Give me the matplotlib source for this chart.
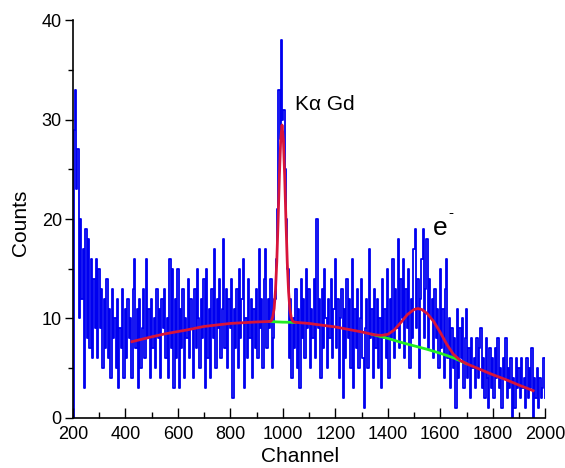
import numpy as np
import matplotlib.pyplot as plt
from matplotlib.ticker import MultipleLocator

plt.rcParams['font.family'] = ['Liberation Sans', 'DejaVu Sans']

# spectrum, every 5 channels (200 .. 2000)
channel = np.arange(200, 2001, 5)
counts = [
    0, 29, 33, 23, 27, 10, 20, 12, 17, 3, 19, 8, 18, 7, 16, 6, 14, 9, 16, 6,            # 200
    15, 9, 13, 5, 12, 7, 14, 6, 11, 4, 13, 8, 10, 5, 12, 3, 9, 7, 13, 4,              # 300
    11, 6, 12, 8, 10, 4, 13, 16, 7, 11, 3, 12, 5, 9, 13, 6, 16, 8, 11, 4,             # 400
    12, 7, 10, 5, 13, 8, 11, 4, 12, 9, 13, 6, 10, 4, 16, 7, 15, 3, 12, 6,             # 500
    15, 3, 11, 7, 13, 4, 10, 8, 14, 6, 12, 9, 4, 13, 7, 15, 10, 5, 12, 8,             # 600
    14, 3, 15, 6, 11, 4, 13, 8, 17, 5, 12, 9, 14, 6, 11, 18, 7, 13, 5, 12,            # 700
    9, 14, 2, 11, 7, 13, 5, 15, 8, 12, 16, 3, 10, 6, 14, 8, 12, 4, 11, 7,             # 800
    13, 6, 17, 9, 12, 5, 14, 17, 7, 12, 9, 14, 5, 8, 12, 16, 21, 33, 28, 38,          # 900
    30, 31, 25, 20, 15, 6, 12, 4, 10, 7, 13, 5, 11, 3, 14, 8, 12, 6, 15, 9,           # 1000
    13, 5, 11, 8, 14, 6, 20, 9, 12, 4, 13, 7, 15, 10, 5, 12, 8, 14, 6, 11,            # 1100
    16, 7, 12, 4, 10, 13, 2, 11, 6, 14, 8, 12, 5, 16, 3, 11, 7, 13, 5, 10,            # 1200
    14, 6, 1, 9, 12, 5, 17, 8, 11, 4, 13, 7, 12, 5, 10, 3, 14, 8, 11, 6,              # 1300
    15, 4, 12, 8, 16, 6, 13, 9, 18, 7, 14, 10, 16, 6, 13, 9, 15, 5, 12, 8,            # 1400
    17, 19, 9, 14, 4, 12, 16, 19, 8, 13, 18, 7, 14, 10, 12, 6, 13, 8, 11, 5,          # 1500
    15, 7, 11, 4, 13, 16, 6, 10, 3, 9, 5, 8, 1, 11, 4, 9, 6, 10, 3, 8,                # 1600
    11, 4, 7, 2, 8, 5, 6, 3, 8, 4, 7, 9, 3, 6, 2, 8, 4, 1, 7, 3,                      # 1700
    6, 2, 7, 4, 8, 3, 5, 1, 6, 4, 8, 2, 5, 3, 6, 0, 4, 1, 6, 3,                       # 1800
    5, 2, 6, 3, 4, 1, 6, 2, 5, 3, 7, 0, 4, 2, 5, 1, 4, 2, 3, 6, 2,                    # 1900
]

# total fit (red)
fit_x = [425, 500, 550, 633, 700, 800, 900, 952, 957, 962, 967, 972, 977, 982,
         987, 992, 997, 1002, 1007, 1012, 1017, 1022, 1027, 1032, 1037, 1045,
         1100, 1142, 1200, 1250, 1300, 1350, 1375, 1400, 1425, 1450, 1475, 1500,
         1515, 1530, 1550, 1575, 1600, 1625, 1650, 1675, 1700, 1750, 1800, 1850,
         1900, 1954]
fit_y = [7.67, 8.15, 8.45, 8.84, 9.2, 9.5, 9.65, 9.7, 9.8, 10.2, 11.0, 12.8, 15.7,
         19.8, 24.4, 28.0, 29.45, 28.0, 24.4, 19.8, 15.6, 12.7, 10.9, 10.1, 9.75,
         9.62, 9.5, 9.35, 9.15, 8.9, 8.65, 8.35, 8.3, 8.4, 8.85, 9.6, 10.4, 10.9,
         11.0, 10.9, 10.5, 9.7, 8.6, 7.4, 6.4, 5.8, 5.45, 4.9, 4.35, 3.85, 3.3, 2.74]

# background (green), only where it leaves the total fit
bg1_x = [950, 975, 1000, 1025, 1045]
bg1_y = [9.7, 9.66, 9.63, 9.62, 9.6]
bg2_x = [1340, 1400, 1450, 1500, 1550, 1600, 1650, 1700]
bg2_y = [8.4, 8.0, 7.6, 7.25, 6.9, 6.5, 6.05, 5.45]

fig = plt.figure(figsize=(5.65, 4.68), dpi=100)
ax = fig.add_axes([0.129, 0.107, 0.836, 0.85])

ax.plot(channel, counts, drawstyle='steps-mid', color='#0000f0', lw=1.3, zorder=1)
ax.plot(bg1_x, bg1_y, color='#22ee22', lw=2.0, zorder=2)
ax.plot(bg2_x, bg2_y, color='#22ee22', lw=2.0, zorder=2)
ax.plot(fit_x, fit_y, color='#d8143a', lw=2.0, zorder=3)

ax.text(1047, 31.0, 'K\u03b1 Gd', fontsize=15)
ax.text(1573, 18.4, 'e', fontsize=19)
ax.text(1632, 20.2, '-', fontsize=11)

ax.set_xlim(200, 2000)
ax.set_ylim(0, 40)
ax.xaxis.set_major_locator(MultipleLocator(200))
ax.xaxis.set_minor_locator(MultipleLocator(100))
ax.yaxis.set_major_locator(MultipleLocator(10))
ax.yaxis.set_minor_locator(MultipleLocator(5))
ax.tick_params(axis='x', which='major', direction='in', length=7, width=1, labelsize=13, pad=6)
ax.tick_params(axis='x', which='minor', direction='in', length=4, width=1)
ax.tick_params(axis='y', which='major', direction='out', length=6, width=1, labelsize=13, pad=2)
ax.tick_params(axis='y', which='minor', direction='out', length=3.5, width=1)
ax.spines['top'].set_visible(False)
ax.spines['right'].set_visible(False)
ax.spines['left'].set_linewidth(1.2)
ax.spines['bottom'].set_linewidth(1.2)
ax.set_xlabel('Channel', fontsize=15)
ax.set_ylabel('Counts', fontsize=15)
ax.xaxis.set_label_coords(0.481, -0.072)
ax.yaxis.set_label_coords(-0.09, 0.49)

plt.savefig('out.png', dpi=100)
